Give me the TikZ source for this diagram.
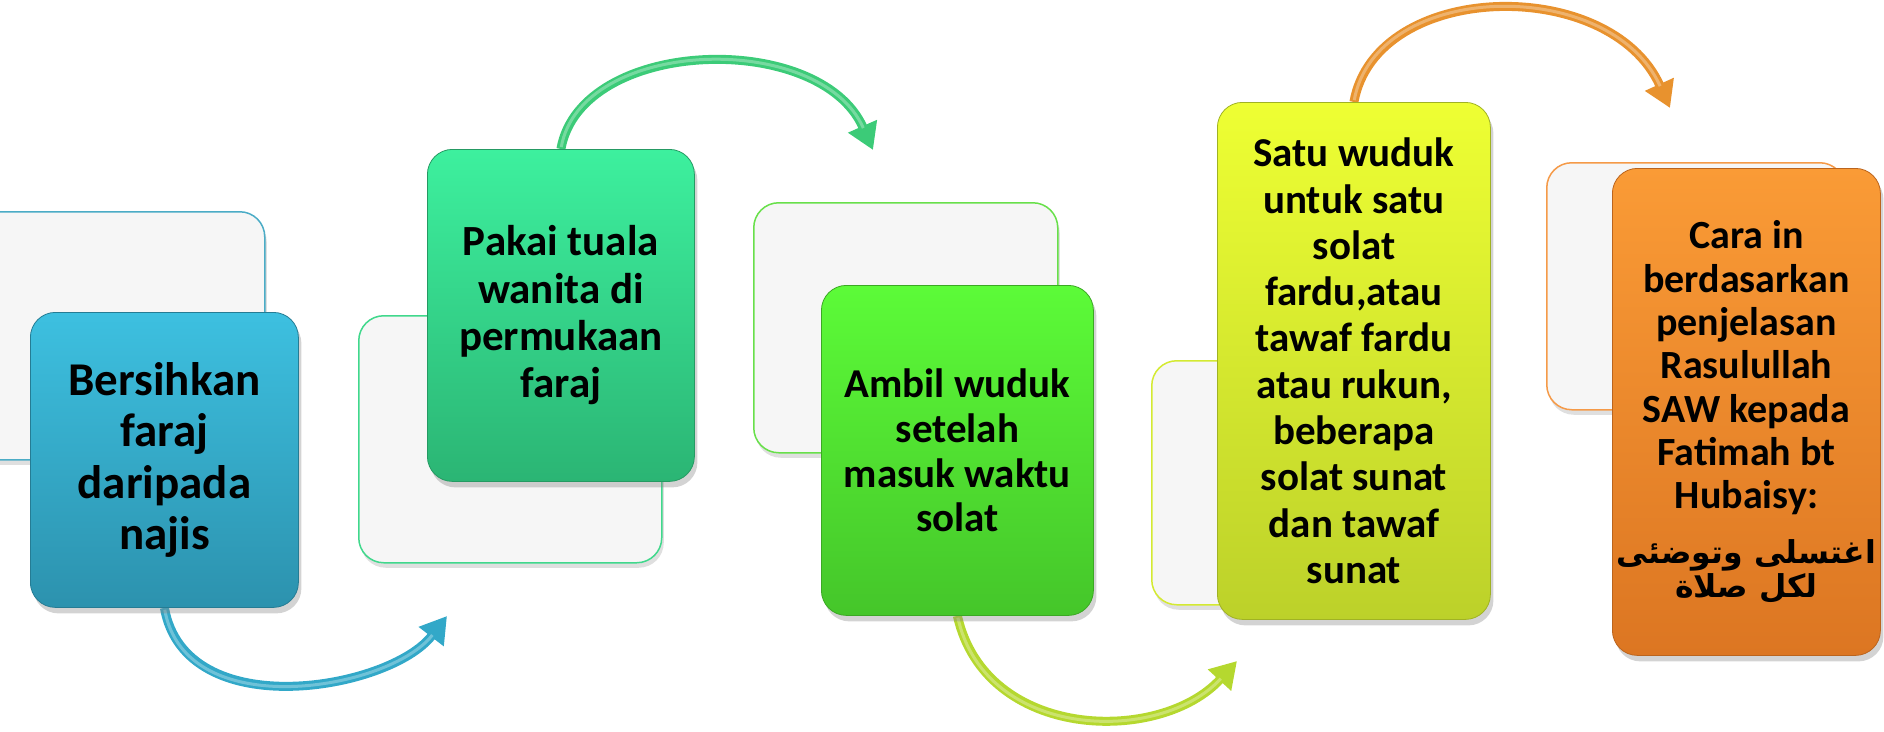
\documentclass[tikz,border=0pt]{standalone}
\usepackage{fontspec}
\setmainfont{Carlito}
\newfontfamily\arabicfont[Script=Arabic]{DejaVu Sans}
\TeXXeTstate=1
\usetikzlibrary{arrows.meta,shadows,calc}
\pgfdeclarelayer{background}
\pgfsetlayers{background,main}
\definecolor{backfill}{HTML}{F6F6F6}
\definecolor{c1t}{HTML}{3DC0E0}\definecolor{c1b}{HTML}{2C92AE}\definecolor{c1e}{HTML}{4BACC6}\definecolor{c1a}{HTML}{32A8C8}
\definecolor{c2t}{HTML}{3DF09E}\definecolor{c2b}{HTML}{2BB574}\definecolor{c2e}{HTML}{40D88C}\definecolor{c2a}{HTML}{3CCB78}
\definecolor{c3t}{HTML}{5CFB38}\definecolor{c3b}{HTML}{45C62A}\definecolor{c3e}{HTML}{68E04A}\definecolor{c3a}{HTML}{B5D82F}
\definecolor{c4t}{HTML}{EEFF33}\definecolor{c4b}{HTML}{BCD12A}\definecolor{c4e}{HTML}{D4EA32}\definecolor{c4a}{HTML}{E8922E}
\definecolor{c5t}{HTML}{FA9B36}\definecolor{c5b}{HTML}{DC7622}\definecolor{c5e}{HTML}{F59A48}
\tikzset{
  backbox/.style={draw=#1, line width=1.5pt, fill=backfill, rounded corners=25pt,
    anchor=north west, inner sep=0pt,
    drop shadow={shadow xshift=2pt, shadow yshift=-5pt, opacity=0.25}},
  mainbox/.style 2 args={top color=#1, bottom color=#2, draw=#2!85!black, line width=0.8pt,
    rounded corners=25pt, anchor=north west, inner sep=0pt, align=flush center,
    text=black,
    drop shadow={shadow xshift=3pt, shadow yshift=-6pt, opacity=0.35}},
  flowarrow/.style={draw=#1, line width=9pt,
    -{Triangle[length=26pt,width=30pt]},
    postaction={draw=white, draw opacity=0.3, line width=3pt, -, shorten >=24pt, shorten <=2pt}}
}
\begin{document}
\begin{tikzpicture}[x=1pt,y=-1pt]
\useasboundingbox (0,0) rectangle (1884,731);
\clip (0,0) rectangle (1884,731);
% back boxes
\node[backbox=c1e, minimum width=324pt, minimum height=248pt] (k1) at (-60,211) {};
\node[backbox=c2e, minimum width=303pt, minimum height=247pt] (k2) at (358,315) {};
\node[backbox=c3e, minimum width=304pt, minimum height=250pt] (k3) at (753,202) {};
\node[backbox=c4e, minimum width=303pt, minimum height=244pt] (k4) at (1151,360) {};
\node[backbox=c5e, minimum width=298pt, minimum height=247pt] (k5) at (1546,162) {};
% main boxes
\node[mainbox={c1t}{c1b}, minimum width=268pt, minimum height=295pt, text width=264pt,
  font=\bfseries\fontsize{47}{51.6}\selectfont] (b1) at (30,312)
  {Bersihkan\\faraj\\daripada\\najis};
\node[mainbox={c2t}{c2b}, minimum width=267pt, minimum height=332pt, text width=264pt,
  font=\bfseries\fontsize{43}{47.3}\selectfont] (b2) at (427,149)
  {Pakai tuala\\wanita di\\permukaan\\faraj};
\node[mainbox={c3t}{c3b}, minimum width=272pt, minimum height=330pt, text width=268pt,
  font=\bfseries\fontsize{41}{44.9}\selectfont] (b3) at (821,285)
  {Ambil wuduk\\setelah\\masuk waktu\\solat};
\node[mainbox={c4t}{c4b}, minimum width=273pt, minimum height=517pt, text width=268pt,
  font=\bfseries\fontsize{41}{46.3}\selectfont] (b4) at (1217,102)
  {Satu wuduk\\untuk satu\\solat\\fardu,atau\\tawaf fardu\\atau rukun,\\beberapa\\solat sunat\\dan tawaf\\sunat};
\node[mainbox={c5t}{c5b}, minimum width=268pt, minimum height=487pt, text width=266pt,
  font=\bfseries\fontsize{40}{43.3}\selectfont] (b5) at (1612,168)
  {Cara in\\berdasarkan\\penjelasan\\Rasulullah\\SAW kepada\\Fatimah bt\\Hubaisy:\\[12pt]
   {\arabicfont\bfseries\fontsize{31.5}{43.3}\selectfont \beginR اغتسلى وتوضئى\endR\\[-10pt] \beginR لكل صلاة\endR}};
% arrow end points
\coordinate (e1) at (447,616);
\coordinate (e2) at (873,150);
\coordinate (e3) at (1237,661);
\coordinate (e4) at (1670,108);
\begin{pgfonlayer}{background}
\draw[flowarrow=c1a] (b1.south) .. controls +(21,118) and +(-57,74) .. (e1);
\draw[flowarrow=c2a] (b2.north) .. controls +(20,-112) and +(-53,-120) .. (e2);
\draw[flowarrow=c3a] (b3.south) .. controls +(28,125) and +(-77,84) .. (e3);
\draw[flowarrow=c4a] (b4.north) .. controls +(22,-122) and +(-60,-133) .. (e4);
\end{pgfonlayer}
\end{tikzpicture}
\end{document}
